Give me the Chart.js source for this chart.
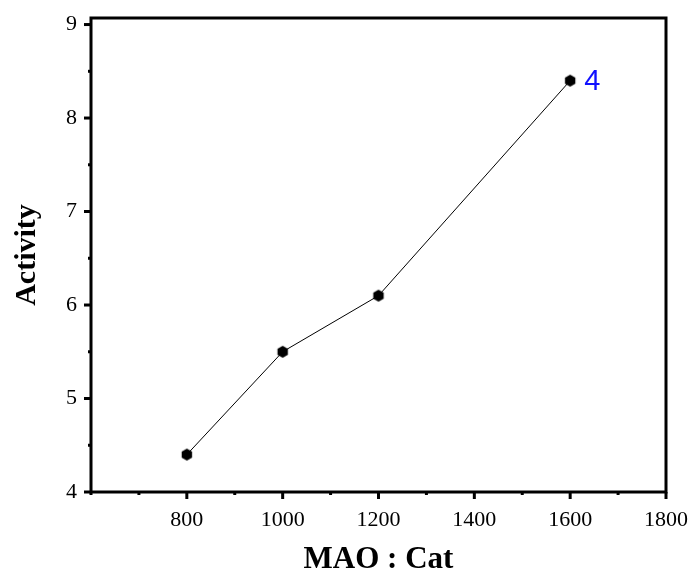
<!DOCTYPE html>
<html>
<head>
<meta charset="utf-8">
<script src="https://cdn.jsdelivr.net/npm/chart.js"></script>
<style>
  html, body { margin: 0; padding: 0; background: #fff; }
  #wrap { width: 699px; height: 579px; }
</style>
</head>
<body>
<div id="wrap"><canvas id="chart" width="699" height="579"></canvas></div>
<script>
// données
const ratios = [800, 1000, 1200, 1600];
const activity = [4.4, 5.5, 6.1, 8.4];
const pointNote = "4";

const xMajor = [800, 1000, 1200, 1400, 1600, 1800];
const xMinor = [600, 700, 900, 1100, 1300, 1500, 1700];
const yMajor = [4, 5, 6, 7, 8, 9];
const yMinor = [4.5, 5.5, 6.5, 7.5, 8.5];

// marqueur hexagonal
function hexMarker(r) {
  const c = document.createElement("canvas");
  c.width = c.height = r * 2 + 2;
  const g = c.getContext("2d");
  g.fillStyle = "#000";
  g.beginPath();
  for (let i = 0; i < 6; i++) {
    const a = Math.PI / 2 + i * Math.PI / 3;
    const px = r + 1 + r * Math.cos(a);
    const py = r + 1 + r * Math.sin(a);
    if (i === 0) g.moveTo(px, py); else g.lineTo(px, py);
  }
  g.closePath();
  g.fill();
  return c;
}

function setTicks(major, minor) {
  return (scale) => {
    const all = major.concat(minor).sort((a, b) => a - b);
    scale.ticks = all.map((v) => ({ value: v, major: major.includes(v) }));
  };
}

// taille fixe des axes, sans marge ajoutée par les étiquettes
function fixSize(prop, val) {
  return (s) => {
    s[prop] = val;
    s.paddingTop = s.paddingBottom = s.paddingLeft = s.paddingRight = 0;
  };
}

// cadre + graduations (majeures longues, mineures courtes)
const frameTicks = {
  id: "frameTicks",
  afterDraw(chart) {
    const { ctx, chartArea: a, scales } = chart;
    ctx.save();
    ctx.strokeStyle = "#000";
    ctx.lineWidth = 3;
    ctx.strokeRect(a.left, a.top, a.right - a.left, a.bottom - a.top);

    scales.x.ticks.forEach((t) => {
      const px = scales.x.getPixelForValue(t.value);
      const len = t.major ? 7 : 3;
      ctx.beginPath();
      ctx.moveTo(px, a.bottom);
      ctx.lineTo(px, a.bottom + len);
      ctx.stroke();
    });
    scales.y.ticks.forEach((t) => {
      const py = scales.y.getPixelForValue(t.value);
      const len = t.major ? 7 : 3;
      ctx.beginPath();
      ctx.moveTo(a.left, py);
      ctx.lineTo(a.left - len, py);
      ctx.stroke();
    });
    ctx.restore();
  }
};

// étiquette bleue à côté du dernier point
const noteLabel = {
  id: "noteLabel",
  afterDatasetsDraw(chart) {
    const meta = chart.getDatasetMeta(0);
    const p = meta.data[meta.data.length - 1];
    const ctx = chart.ctx;
    ctx.save();
    ctx.fillStyle = "#1010ff";
    ctx.font = "29px 'Liberation Sans', Arial, sans-serif";
    ctx.textAlign = "left";
    ctx.textBaseline = "middle";
    ctx.fillText(pointNote, p.x + 14, p.y + 1);
    ctx.restore();
  }
};

const serif = "'Liberation Serif', 'Times New Roman', serif";
const marker = hexMarker(6);

new Chart(document.getElementById("chart"), {
  type: "line",
  data: {
    datasets: [{
      data: ratios.map((x, i) => ({ x: x, y: activity[i] })),
      borderColor: "#000",
      borderWidth: 1,
      pointStyle: marker,
      pointRadius: 6,
      pointHoverRadius: 6,
      fill: false,
      tension: 0
    }]
  },
  options: {
    responsive: false,
    animation: false,
    events: [],
    layout: { padding: { top: 18, right: 33, left: 0, bottom: 0 } },
    plugins: { legend: { display: false }, tooltip: { enabled: false } },
    scales: {
      x: {
        type: "linear",
        min: 600,
        max: 1800,
        afterBuildTicks: setTicks(xMajor, xMinor),
        afterFit: fixSize("height", 87),
        grid: { display: false, drawTicks: false },
        border: { display: false },
        ticks: {
          autoSkip: false,
          maxRotation: 0,
          padding: 15,
          color: "#000",
          font: { family: serif, size: 22 },
          callback: (v) => (xMajor.includes(v) ? String(v) : "")
        },
        title: {
          display: true,
          text: "MAO : Cat",
          color: "#000",
          font: { family: serif, size: 31, weight: "bold" },
          padding: { top: 0, bottom: 0 }
        }
      },
      y: {
        type: "linear",
        min: 4,
        max: 9.07,
        afterBuildTicks: setTicks(yMajor, yMinor),
        afterFit: fixSize("width", 91),
        grid: { display: false, drawTicks: false },
        border: { display: false },
        ticks: {
          autoSkip: false,
          padding: 14,
          color: "#000",
          font: { family: serif, size: 22 },
          callback: (v) => (yMajor.includes(v) ? String(v) : "")
        },
        title: {
          display: true,
          text: "Activity",
          color: "#000",
          font: { family: serif, size: 30, weight: "bold" },
          padding: { top: 9, bottom: 0 }
        }
      }
    }
  },
  plugins: [frameTicks, noteLabel]
});
</script>
</body>
</html>
